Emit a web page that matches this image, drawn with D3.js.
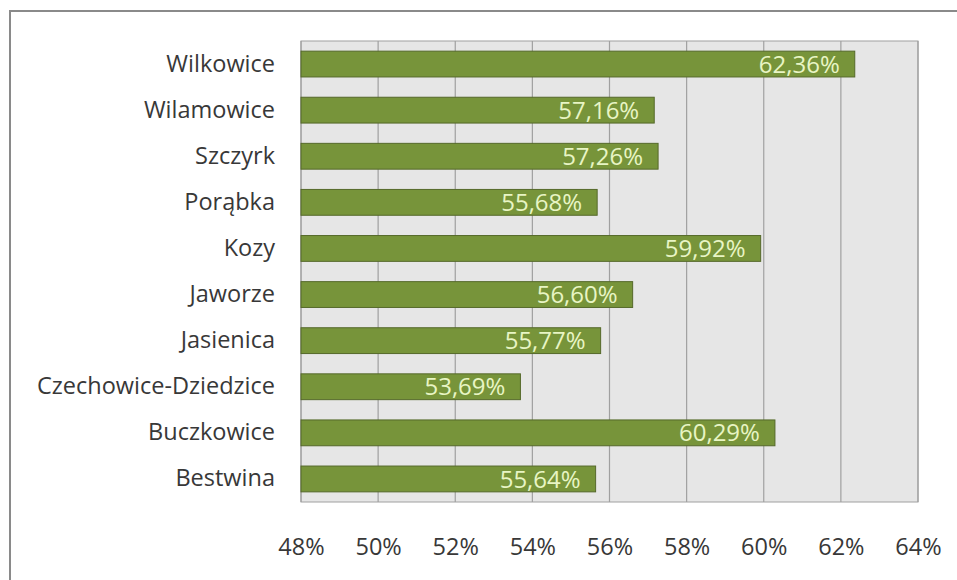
<!DOCTYPE html>
<html><head><meta charset="utf-8">
<script src="https://cdn.jsdelivr.net/npm/d3@7"></script>
<style>body{margin:0;background:#fff}svg{display:block}</style>
</head><body>
<script>
const categories = ["Wilkowice","Wilamowice","Szczyrk","Porąbka","Kozy","Jaworze","Jasienica","Czechowice-Dziedzice","Buczkowice","Bestwina"];
const values = [62.36,57.16,57.26,55.68,59.92,56.60,55.77,53.69,60.29,55.64];
const labels = ["62,36%","57,16%","57,26%","55,68%","59,92%","56,60%","55,77%","53,69%","60,29%","55,64%"];
const tickValues = [48,50,52,54,56,58,60,62,64];

(function(){
const W=957,H=580;
const svg=d3.select("body").append("svg").attr("width",W).attr("height",H);
svg.append("rect").attr("x",10).attr("y",11).attr("width",960).attr("height",600)
  .attr("fill","#fff").attr("stroke","#8a8a8a").attr("stroke-width",2);

const pL=301,pR=918,pT=41,pB=502;
const x=d3.scaleLinear().domain([48,64]).range([pL,pR]);
const y=d3.scaleBand().domain(categories).range([pT,pB]).paddingInner(0.44).paddingOuter(0.22);

svg.append("rect").attr("x",pL).attr("y",pT).attr("width",pR-pL).attr("height",pB-pT)
  .attr("fill","#e6e6e6").attr("stroke","#a0a0a0");
svg.append("g").selectAll("line").data(tickValues).join("line")
  .attr("x1",d=>x(d)).attr("x2",d=>x(d)).attr("y1",pT).attr("y2",pB)
  .attr("stroke","#a0a0a0").attr("stroke-width",1.2);

svg.append("g").selectAll("rect").data(values).join("rect")
  .attr("x",x(48)).attr("y",(d,i)=>y(categories[i]))
  .attr("width",d=>x(d)-x(48)).attr("height",y.bandwidth())
  .attr("fill","#77943a").attr("stroke","#55692a").attr("stroke-width",1);

svg.append("g").selectAll("text").data(values).join("text")
  .attr("x",d=>x(d)-15).attr("y",(d,i)=>y(categories[i])+y.bandwidth()/2)
  .attr("dy","0.36em").attr("text-anchor","end")
  .attr("font-family","Open Sans, sans-serif").attr("font-size",24)
  .attr("fill","#e8f5c4").text((d,i)=>labels[i]);

const yAxis=d3.axisLeft(y).tickSize(0).tickPadding(26);
const gy=svg.append("g").attr("transform",`translate(${pL},0)`).call(yAxis);
gy.select(".domain").remove();
gy.selectAll("text").attr("font-family","Open Sans, sans-serif").attr("font-size",23.5).attr("fill","#383838");

const xAxis=d3.axisBottom(x).tickValues(tickValues).tickSize(0).tickPadding(36).tickFormat(d=>d+"%");
const gx=svg.append("g").attr("transform",`translate(0,${pB})`).call(xAxis);
gx.select(".domain").remove();
gx.selectAll("text").attr("font-family","Open Sans, sans-serif").attr("font-size",23.5).attr("fill","#383838");
})();
</script>
</body></html>
